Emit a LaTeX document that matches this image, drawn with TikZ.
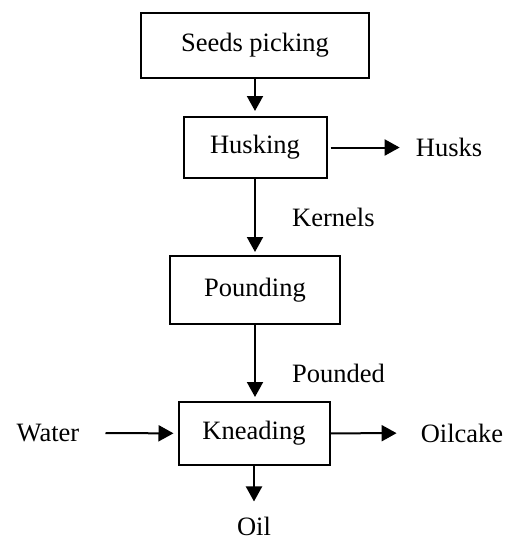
\documentclass[tikz,border=0pt]{standalone}
\usepackage{fontspec}
\setmainfont{Liberation Serif}
\usetikzlibrary{arrows.meta}
\begin{document}
\begin{tikzpicture}[x=1pt,y=-1pt,
  every node/.style={font=\fontsize{26.5}{30}\selectfont},
  stepbox/.style={draw,line width=2pt,inner sep=0pt},
  lbl/.style={inner sep=2pt},
  flow/.style={line width=2pt,-{Triangle[length=15pt,width=16pt]}}]
\useasboundingbox (0,0) rectangle (516,542);
% process steps
\node[stepbox,minimum width=228pt,minimum height=65pt] (seeds) at (255,45.5) {Seeds picking};
\node[stepbox,minimum width=143pt,minimum height=61pt] (husk) at (255,147.5) {Husking\hspace{6pt}};
\node[stepbox,minimum width=170pt,minimum height=68pt] (pound) at (255,290) {Pounding};
\node[stepbox,minimum width=151pt,minimum height=63pt] (knead) at (254,433.5) {\raisebox{4pt}{Kneading}};
% inputs and outputs
\node[lbl] (husks) at (449,147) {Husks};
\node[lbl,anchor=west] (kern) at (290,217) {Kernels};
\node[lbl,anchor=west] (pdd) at (290,373) {Pounded};
\node[lbl] (water) at (48,433) {Water};
\node[lbl] (cake) at (462,433) {Oilcake};
\node[lbl] (oil) at (254,526) {Oil};
% connectors
\draw[flow,shorten >=5pt] (seeds) -- (husk);
\draw[flow,shorten >=3pt] (husk) -- (pound);
\draw[flow,shorten >=4pt] (pound) -- (knead.north -| pound.south);
\draw[flow,shorten <=3pt,shorten >=14pt] (husk) -- (husks.west |- husk.east);
\draw[flow,shorten <=24pt,shorten >=4pt] (water) -- (knead);
\draw[flow,shorten >=22pt] (knead) -- (cake);
\draw[flow,shorten >=13pt] (knead) -- (oil);
\end{tikzpicture}
\end{document}
